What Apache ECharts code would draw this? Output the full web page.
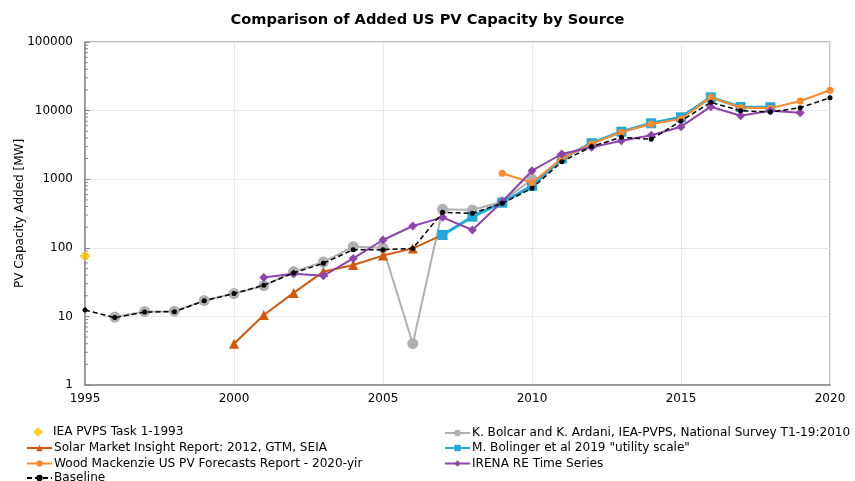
<!DOCTYPE html>
<html>
<head>
<meta charset="utf-8">
<script src="https://cdn.jsdelivr.net/npm/echarts@6/dist/echarts.min.js"></script>
<style>
  html, body { margin: 0; padding: 0; background: #fff; }
  #chart { width: 855px; height: 481px; }
</style>
</head>
<body>
<div id="chart"></div>
<script>
// Annual US PV capacity additions [MW], per source
const baselineYears = [1995,1996,1997,1998,1999,2000,2001,2002,2003,2004,2005,2006,2007,2008,2009,2010,2011,2012,2013,2014,2015,2016,2017,2018,2019,2020];
const baselineValues = [12.4,9.6,11.6,11.7,16.9,21.5,28.5,43,59.5,94,94,98,329,318,445,737,1800,3000,4080,3815,7050,13200,9970,9540,11030,15400];

const ieaYears = [1995];
const ieaValues = [76];

const bolcarYears = [1996,1997,1998,1999,2000,2001,2002,2003,2004,2005,2006,2007,2008,2009,2010];
const bolcarValues = [9.8,11.8,11.9,17,21.5,28,45,62,104,100,4,364,356,470,996];

const smiYears = [2000,2001,2002,2003,2004,2005,2006,2007];
const smiValues = [4,10.5,22,44.9,56,77,98,154];

const bolingerYears = [2007,2008,2009,2010,2011,2012,2013,2014,2015,2016,2017,2018];
const bolingerValues = [154,284,454,800,2000,3350,4930,6530,7980,15600,11280,11200];

const woodYears = [2009,2010,2011,2012,2013,2014,2015,2016,2017,2018,2019,2020];
const woodValues = [1220,889,2017,3300,4850,6380,7540,15600,11100,10800,13800,19800];

const irenaYears = [2001,2002,2003,2004,2005,2006,2007,2008,2009,2010,2011,2012,2013,2014,2015,2016,2017,2018,2019];
const irenaValues = [37,42,39,70,130,208,278,182,470,1330,2330,2915,3640,4360,5830,11400,8430,9970,9320];

const xTicks = [1995, 2000, 2005, 2010, 2015, 2020];
const yMinorTicks = [2,3,4,5,6,7,8,9,20,30,40,50,60,70,80,90,200,300,400,500,600,700,800,900,
  2000,3000,4000,5000,6000,7000,8000,9000,20000,30000,40000,50000,60000,70000,80000,90000];

const NAMES = {
  iea: 'IEA PVPS Task 1-1993',
  smi: 'Solar Market Insight Report: 2012, GTM, SEIA',
  wood: 'Wood Mackenzie US PV Forecasts Report - 2020-yir',
  base: 'Baseline',
  bolcar: 'K. Bolcar and K. Ardani, IEA-PVPS, National Survey T1-19:2010',
  bolinger: 'M. Bolinger et al 2019 "utility scale"',
  irena: 'IRENA RE Time Series'
};

const pair = (xs, ys) => xs.map((x, i) => [x, ys[i]]);
const FONT = 'DejaVu Sans';
const LEGEND_FONT_SIZE = 12.1;

// one legend entry per row, laid out in two columns
const rowTops = [427, 442, 457.5, 472];
function legendRow(name, left, top, extra) {
  return Object.assign({
    data: [name],
    left: left,
    top: top,
    padding: 0,
    itemWidth: 25,
    itemHeight: 8,
    selectedMode: false,
    textStyle: { fontFamily: FONT, fontSize: LEGEND_FONT_SIZE, color: '#000', padding: [0, 0, 0, -3] }
  }, extra || {});
}

const chart = echarts.init(document.getElementById('chart'), null, { renderer: 'canvas' });

chart.setOption({
  animation: false,
  backgroundColor: '#fff',
  title: {
    text: 'Comparison of Added US PV Capacity by Source',
    left: 'center',
    top: 8,
    textStyle: { fontFamily: FONT, fontSize: 14.6, fontWeight: 'bold', color: '#000' }
  },
  legend: [
    legendRow(NAMES.iea, 33, rowTops[0] - 1, {
      itemWidth: 10, itemHeight: 10,
      textStyle: { fontFamily: FONT, fontSize: LEGEND_FONT_SIZE, color: '#000', padding: [0, 0, 0, 5] }
    }),
    legendRow(NAMES.smi, 26, rowTops[1]),
    legendRow(NAMES.wood, 26, rowTops[2]),
    legendRow(NAMES.base, 26, rowTops[3]),
    legendRow(NAMES.bolcar, 444, rowTops[0]),
    legendRow(NAMES.bolinger, 444, rowTops[1]),
    legendRow(NAMES.irena, 444, rowTops[2])
  ],
  grid: {
    left: 85, right: 25, top: 42, bottom: 96,
    containLabel: false,
    outerBoundsMode: 'none',
    show: true, borderColor: '#a8a8a8', borderWidth: 1.5
  },
  xAxis: {
    type: 'value',
    min: 1995, max: 2020, interval: 5,
    axisLine: { show: true, lineStyle: { color: '#888', width: 1.5 } },
    axisTick: { show: false },
    axisLabel: { fontFamily: FONT, fontSize: 12, color: '#000', margin: 8,
      formatter: v => (xTicks.indexOf(v) >= 0 ? String(v) : '') },
    splitLine: { show: true, lineStyle: { color: '#e8e8e8', width: 1 } }
  },
  yAxis: {
    type: 'log',
    logBase: 10,
    min: 1, max: 100000,
    name: 'PV Capacity Added [MW]',
    nameLocation: 'middle',
    nameGap: 59,
    nameMoveOverlap: false,
    nameTextStyle: { fontFamily: FONT, fontSize: 12, color: '#000' },
    axisLine: { show: true, lineStyle: { color: '#888', width: 1.5 } },
    axisTick: { show: true, inside: true, length: 5, lineStyle: { color: '#888' } },
    axisLabel: { fontFamily: FONT, fontSize: 12, color: '#000', margin: 12,
      formatter: v => String(Math.round(v)) },
    splitLine: { show: true, lineStyle: { color: '#e8e8e8', width: 1 } }
  },
  series: [
    {
      // log-scale minor ticks along the left axis
      type: 'custom',
      silent: true,
      data: yMinorTicks.map(v => [1995, v]),
      renderItem: (params, api) => {
        const p = api.coord([api.value(0), api.value(1)]);
        return {
          type: 'line',
          shape: { x1: p[0], y1: p[1], x2: p[0] + 3, y2: p[1] },
          style: { stroke: '#888', lineWidth: 1 }
        };
      },
      z: 1
    },
    {
      name: NAMES.bolcar, type: 'line', data: pair(bolcarYears, bolcarValues),
      symbol: 'circle', symbolSize: 11,
      itemStyle: { color: '#b0b0b0' }, lineStyle: { color: '#b0b0b0', width: 2 }, z: 2
    },
    {
      name: NAMES.smi, type: 'line', data: pair(smiYears, smiValues),
      symbol: 'triangle', symbolSize: 10,
      itemStyle: { color: '#d4580c' }, lineStyle: { color: '#d4580c', width: 2 }, z: 3
    },
    {
      name: NAMES.bolinger, type: 'line', data: pair(bolingerYears, bolingerValues),
      symbol: 'rect', symbolSize: 10,
      itemStyle: { color: '#1fa9dd' }, lineStyle: { color: '#1fa9dd', width: 3 }, z: 4
    },
    {
      name: NAMES.wood, type: 'line', data: pair(woodYears, woodValues),
      symbol: 'circle', symbolSize: 7,
      itemStyle: { color: '#ff8a2b' }, lineStyle: { color: '#ff8a2b', width: 2 }, z: 5
    },
    {
      name: NAMES.irena, type: 'line', data: pair(irenaYears, irenaValues),
      symbol: 'diamond', symbolSize: 9,
      itemStyle: { color: '#8e44ad' }, lineStyle: { color: '#8e44ad', width: 2 }, z: 6
    },
    {
      name: NAMES.base, type: 'line', data: pair(baselineYears, baselineValues),
      symbol: 'circle', symbolSize: 5,
      itemStyle: { color: '#000' }, lineStyle: { color: '#000', width: 1.5, type: [5, 3] }, z: 7
    },
    {
      name: NAMES.iea, type: 'scatter', data: pair(ieaYears, ieaValues),
      symbol: 'diamond', symbolSize: 11,
      itemStyle: { color: '#ffc000' }, z: 8
    }
  ]
});
</script>
</body>
</html>
